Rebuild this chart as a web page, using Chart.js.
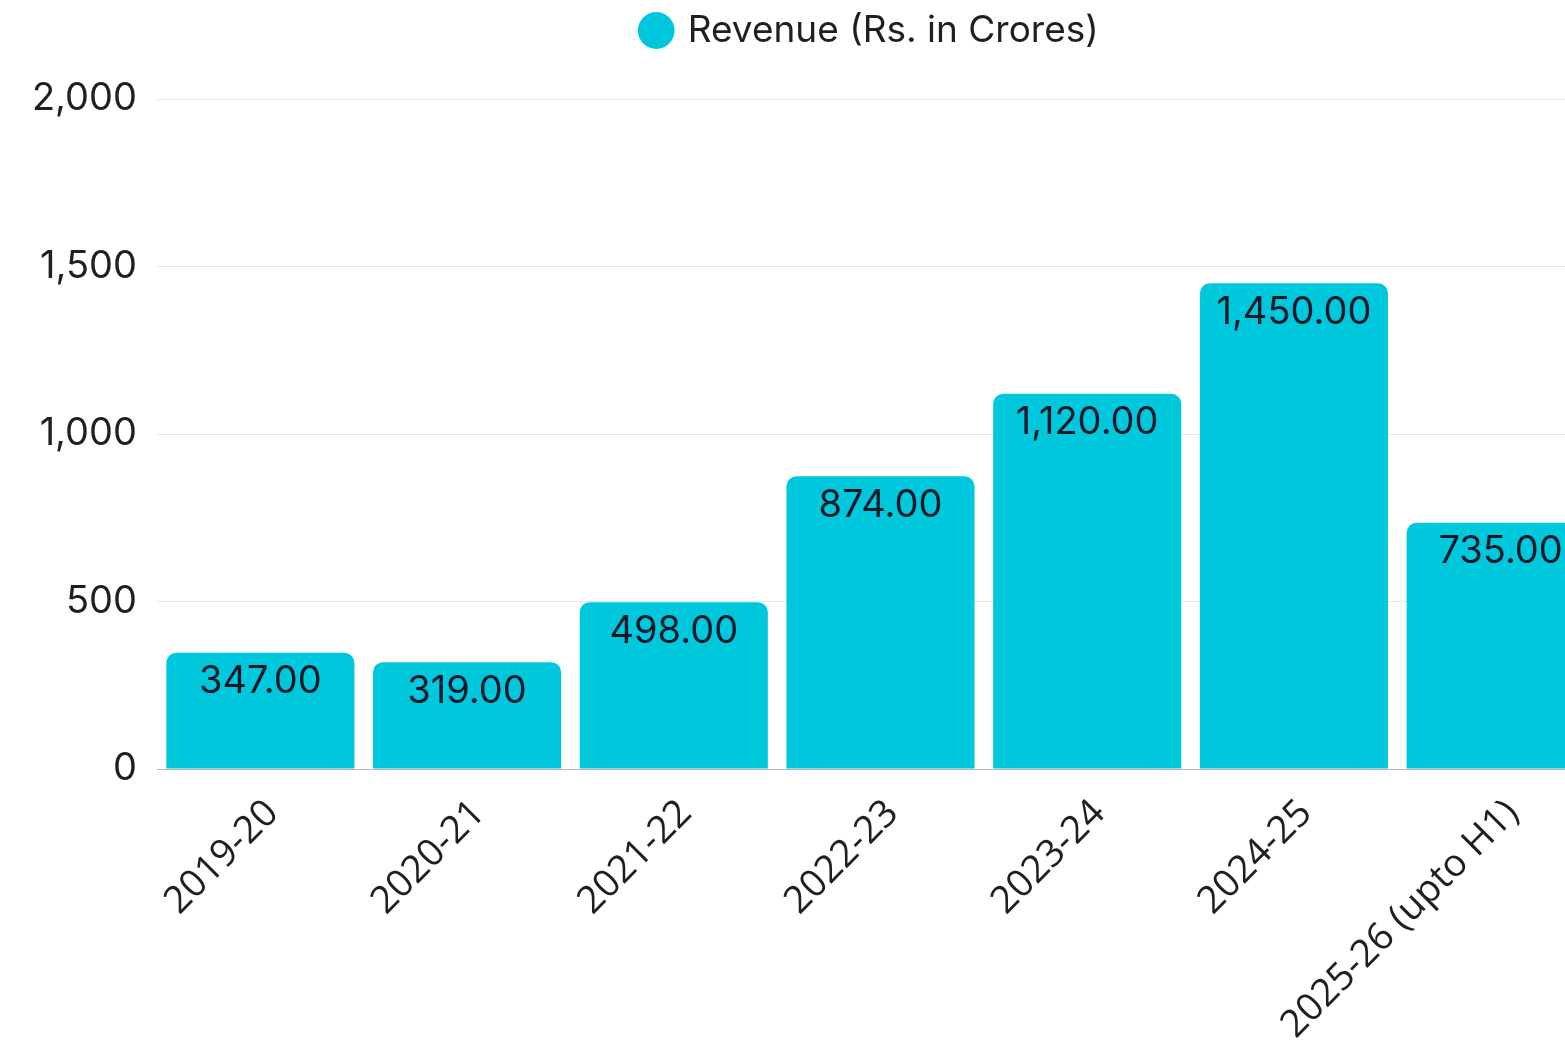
<!DOCTYPE html>
<html>
<head>
<meta charset="utf-8">
<script src="https://cdn.jsdelivr.net/npm/chart.js@4.4.1/dist/chart.umd.min.js"></script>
<style>
  html, body { margin: 0; padding: 0; background: #ffffff; overflow: hidden; }
  #wrap { width: 1742px; height: 1042px; }
</style>
</head>
<body>
<div id="wrap"><canvas id="chart" width="1742" height="1042"></canvas></div>
<script>
// Annual revenue, Rs. in crores
const years = ['2019-20', '2020-21', '2021-22', '2022-23', '2023-24', '2024-25', '2025-26 (upto H1)'];
const revenue = [347, 319, 498, 874, 1120, 1450, 735];
const seriesName = 'Revenue (Rs. in Crores)';
const yTicks = [0, 500, 1000, 1500, 2000];

const barColor = '#00c8dc';
const textColor = '#1f1f1f';
const uiFont = 'Inter, "Noto Sans", sans-serif';

// Writes each bar's value just inside its top edge
const valueLabels = {
  id: 'valueLabels',
  afterDatasetsDraw(chart) {
    const { ctx } = chart;
    const meta = chart.getDatasetMeta(0);
    ctx.save();
    ctx.font = '38px ' + uiFont;
    ctx.fillStyle = '#111827';
    ctx.textAlign = 'center';
    ctx.textBaseline = 'middle';
    meta.data.forEach((bar, i) => {
      const v = chart.data.datasets[0].data[i];
      const txt = v.toLocaleString('en-US', { minimumFractionDigits: 2, maximumFractionDigits: 2 });
      ctx.fillText(txt, bar.x, bar.y + 29);
    });
    ctx.restore();
  }
};

// Extra room between the legend and the plot
const legendGap = {
  id: 'legendGap',
  beforeInit(chart) {
    const fit = chart.legend.fit;
    chart.legend.fit = function () {
      fit.call(this);
      this.height += 40;
    };
  }
};

new Chart(document.getElementById('chart'), {
  type: 'bar',
  data: {
    labels: years,
    datasets: [{
      label: seriesName,
      data: revenue,
      backgroundColor: barColor,
      borderRadius: 10,
      borderSkipped: 'start',
      barPercentage: 0.91,
      categoryPercentage: 1.0
    }]
  },
  options: {
    responsive: false,
    animation: false,
    layout: { padding: { top: 0, left: 0, right: 0, bottom: 0 } },
    plugins: {
      legend: {
        position: 'top',
        labels: {
          usePointStyle: true,
          pointStyle: 'circle',
          boxWidth: 26,
          boxHeight: 26,
          color: textColor,
          font: { family: uiFont, size: 37 },
          padding: 12
        }
      },
      tooltip: { enabled: false }
    },
    scales: {
      x: {
        grid: { display: false },
        border: { display: true, color: '#b8b8b8', width: 1 },
        afterFit(scale) { scale.height = 273; },
        ticks: {
          color: textColor,
          font: { family: '"Open Sans", sans-serif', size: 38 },
          maxRotation: 45,
          minRotation: 45,
          padding: 14,
          labelOffset: 12
        }
      },
      y: {
        min: yTicks[0],
        max: yTicks[yTicks.length - 1],
        afterBuildTicks(scale) { scale.ticks = yTicks.map(v => ({ value: v })); },
        afterFit(scale) { scale.width = 157; },
        grid: { color: '#e6e6e6', lineWidth: 1, drawTicks: false },
        border: { display: false },
        ticks: {
          color: textColor,
          font: { family: uiFont, size: 38 },
          padding: 20
        }
      },
      spacer: {
        position: 'right',
        display: true,
        grid: { display: false },
        border: { display: false },
        ticks: { display: false },
        afterFit(scale) { scale.width = 138; }
      }
    }
  },
  plugins: [legendGap, valueLabels]
});
</script>
</body>
</html>
